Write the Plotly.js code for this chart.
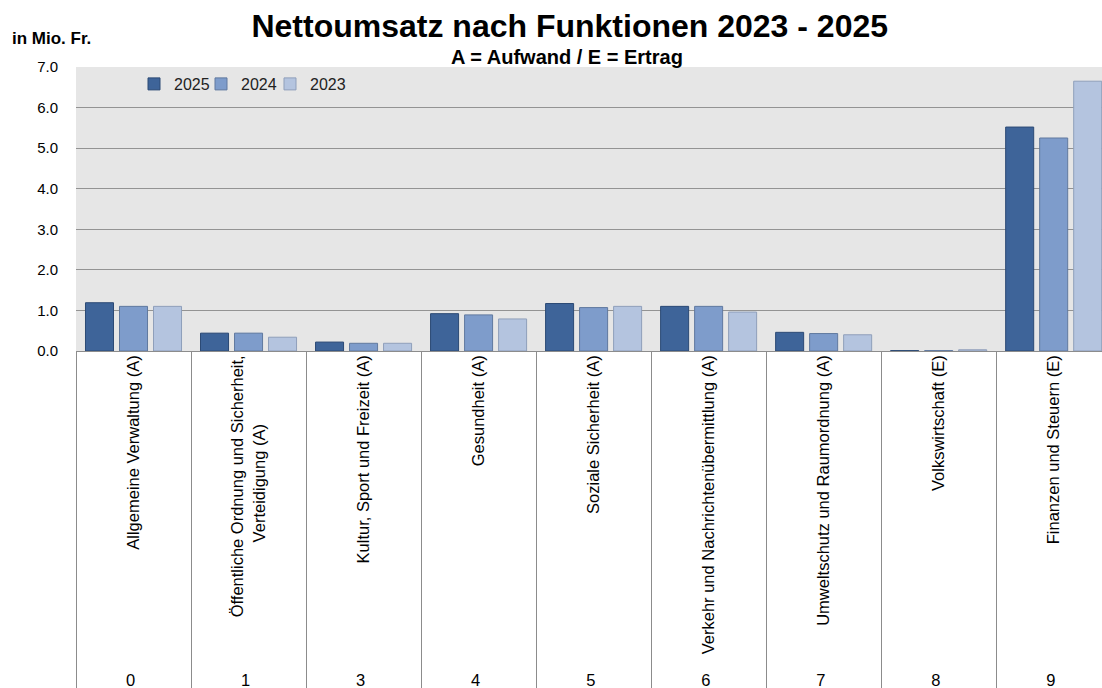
<!DOCTYPE html>
<html>
<head>
<meta charset="utf-8">
<script src="https://cdn.plot.ly/plotly-3.0.1.min.js"></script>
<style>html,body{margin:0;padding:0;background:#fff;}#chart{width:1102px;height:688px;}</style>
</head>
<body>
<div id="chart"></div>
<script>
const codes = ["0", "1", "3", "4", "5", "6", "7", "8", "9"];
const names = [
  "Allgemeine Verwaltung (A)",
  "Öffentliche Ordnung und Sicherheit,<br>Verteidigung (A)\u00a0\u00a0\u00a0\u00a0\u00a0\u00a0\u00a0\u00a0\u00a0\u00a0\u00a0\u00a0\u00a0\u00a0\u00a0",
  "Kultur, Sport und Freizeit (A)",
  "Gesundheit (A)",
  "Soziale Sicherheit (A)",
  "Verkehr und Nachrichtenübermittlung (A)",
  "Umweltschutz und Raumordnung (A)",
  "Volkswirtschaft (E)",
  "Finanzen und Steuern (E)"
];
const years = ["2025", "2024", "2023"];
const values2025 = [1.19, 0.44, 0.22, 0.92, 1.17, 1.10, 0.46, 0.01, 5.52];
const values2024 = [1.10, 0.44, 0.19, 0.89, 1.07, 1.10, 0.43, 0.01, 5.25];
const values2023 = [1.10, 0.34, 0.19, 0.79, 1.10, 0.96, 0.40, 0.03, 6.65];
const yTicks = [0, 1, 2, 3, 4, 5, 6, 7];

const fills = ["#3e6499", "#7e9ccb", "#b4c4df"];
const lines = ["#2c4a75", "#60799f", "#8f9fba"];
const series = [values2025, values2024, values2023];
const legendIds = ["legend", "legend2", "legend3"];

const traces = series.map((vals, i) => ({
  type: "bar",
  name: years[i],
  legend: legendIds[i],
  x: [codes, names],
  y: vals,
  marker: {color: fills[i], line: {color: lines[i], width: 1}},
  hoverinfo: "skip"
}));

const font = "Liberation Sans, Arial, sans-serif";

function legendAt(px) {
  return {
    orientation: "h",
    x: (px - 76) / 1026, y: 1.0, xanchor: "left", yanchor: "top",
    bgcolor: "rgba(0,0,0,0)",
    font: {family: font, size: 16, color: "#222"},
    itemwidth: 30
  };
}

const layout = {
  width: 1102,
  height: 688,
  margin: {l: 76, r: 0, t: 67, b: 337, pad: 0},
  paper_bgcolor: "#ffffff",
  plot_bgcolor: "#e6e6e6",
  barmode: "group",
  bargap: 0.113,
  bargroupgap: 0.176,
  font: {family: font, size: 13, color: "#000"},
  title: {
    text: "<b>Nettoumsatz nach Funktionen 2023 - 2025</b>",
    font: {family: font, size: 32, color: "#000"},
    x: 0.517, xanchor: "center",
    y: 0.962, yanchor: "middle", yref: "container"
  },
  annotations: [
    {text: "<b>A = Aufwand / E = Ertrag</b>", xref: "paper", yref: "paper",
     x: 0.4786, y: 1.035, xanchor: "center", yanchor: "middle", showarrow: false,
     font: {family: font, size: 20, color: "#000"}},
    {text: "<b>in Mio. Fr.</b>", xref: "paper", yref: "paper",
     x: -0.0643, y: 1.102, xanchor: "left", yanchor: "middle", showarrow: false,
     font: {family: font, size: 17, color: "#000"}}
  ],
  legend: legendAt(134),
  legend2: legendAt(201),
  legend3: legendAt(270),
  xaxis: {
    type: "multicategory",
    range: [-0.5, 8.42],
    tickangle: -90,
    tickfont: {family: font, size: 16.5, color: "#000"},
    showdividers: true,
    dividercolor: "#8c8c8c",
    dividerwidth: 1,
    showgrid: false,
    showline: false,
    ticks: "",
    fixedrange: true
  },
  yaxis: {
    range: [0, 7],
    tickvals: yTicks,
    tickformat: ".1f",
    tickfont: {family: font, size: 15, color: "#000"},
    showgrid: true,
    gridcolor: "#939393",
    gridwidth: 1,
    zeroline: true,
    zerolinecolor: "#8c8c8c",
    zerolinewidth: 1,
    showline: false,
    ticks: "",
    ticklabelstandoff: 17,
    fixedrange: true
  },
  showlegend: true
};

Plotly.newPlot("chart", traces, layout, {displayModeBar: false, staticPlot: true});
</script>
</body>
</html>
